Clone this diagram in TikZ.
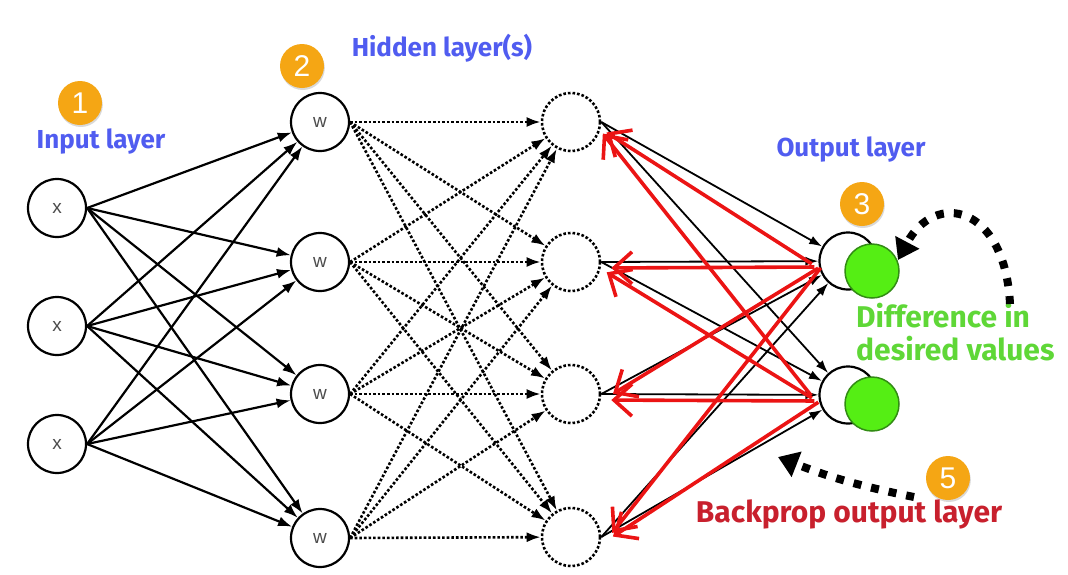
\documentclass[tikz,border=0pt]{standalone}
\usepackage{fontspec}
\setmainfont{Fira Sans}
\newfontfamily\nodefont{Liberation Sans}
\usetikzlibrary{arrows.meta,calc,shadows}
\definecolor{lblue}{RGB}{80,92,240}
\definecolor{lgreen}{RGB}{95,215,55}
\definecolor{lred}{RGB}{200,32,45}
\definecolor{badgeor}{RGB}{245,166,20}
\definecolor{nodegreen}{RGB}{85,238,20}
\definecolor{nodegreenline}{RGB}{50,140,20}
\definecolor{arrred}{RGB}{235,20,20}
\tikzset{
  neuron/.style={circle, draw, line width=2.2pt, minimum size=58pt, inner sep=0pt,
    font=\nodefont\fontsize{19}{19}\selectfont, text=black!70},
  hnode/.style={circle, draw, dotted, line width=2.6pt, minimum size=58pt, inner sep=0pt},
  outwhite/.style={circle, draw, fill=white, line width=2.2pt, minimum size=57pt, inner sep=0pt},
  outgreen/.style={circle, draw=nodegreenline, fill=nodegreen, line width=1.5pt, minimum size=54pt, inner sep=0pt},
  solidarrow/.style={line width=2.2pt, -{Latex[length=14pt,width=10pt]}},
  dotarrow/.style={dotted, line width=2.6pt, -{Latex[length=14pt,width=10pt]}},
  fwdarrow/.style={line width=1.8pt, -{Latex[length=13pt,width=9pt]}},
  redarrow/.style={draw=arrred, line width=3.6pt, -{Straight Barb[length=18pt,width=32pt]}},
  bigdash/.style={line width=8pt, dash pattern=on 8pt off 10pt, -{Triangle[length=20pt,width=26pt]}},
  badge/.style={circle, fill=badgeor, minimum size=44pt, inner sep=0pt, text=white,
    font=\nodefont\fontsize{30}{30}\selectfont,
    drop shadow={opacity=0.3, shadow xshift=0.8pt, shadow yshift=-2pt}},
  lbl/.style={font=\bfseries\fontsize{26}{34}\selectfont, inner sep=0pt},
  biglbl/.style={font=\bfseries\fontsize{30}{33}\selectfont, inner sep=0pt}
}
\begin{document}
\begin{tikzpicture}[x=1pt,y=-1pt]
\useasboundingbox (0,0) rectangle (1068,574);
% input layer
\node[neuron] (x1) at (57,208) {x};
\node[neuron] (x2) at (57,326) {x};
\node[neuron] (x3) at (57,444) {x};
% hidden layer 1
\node[neuron] (w1) at (320,122) {w};
\node[neuron] (w2) at (320,262) {w};
\node[neuron] (w3) at (320,394) {w};
\node[neuron] (w4) at (320,538) {w};
% hidden layer 2
\node[hnode] (h1) at (571,122) {};
\node[hnode] (h2) at (571,262) {};
\node[hnode] (h3) at (571,394) {};
\node[hnode] (h4) at (571,537) {};
% output layer
\node[outwhite] (o1) at (848,261) {};
\node[outgreen] (g1) at (872,271) {};
\node[outwhite] (o2) at (848,395) {};
\node[outgreen] (g2) at (872,404) {};
% connections
\foreach \i in {1,2,3} \foreach \j in {1,2,3,4} \draw[solidarrow] (x\i.east) -- (w\j);
\foreach \i in {1,2,3,4} \foreach \j in {1,2,3,4} \draw[dotarrow] (w\i.east) -- (h\j);
\foreach \i in {1,2,3,4} \foreach \j in {1,2} \draw[fwdarrow] (h\i.east) -- (o\j);
\foreach \i in {1,2,3,4} \foreach \j in {1,2}
  \draw[redarrow, shorten >=10pt, shorten <=4pt] ($(o\j.west)!6pt!90:(h\i.east)$) -- ($(h\i.east)!6pt!-90:(o\j.west)$);
% badges
\node[badge] (b1) at (80,103) {1};
\node[badge] (b2) at (302,66) {2};
\node[badge] (b3) at (862,204) {3};
\node[badge] (b5) at (948,478) {5};
% labels
\node[lbl, text=lblue] (tin) at (101,142) {Input layer};
\node[lbl, text=lblue] (thid) at (442,48) {Hidden layer(s)};
\node[lbl, text=lblue] (tout) at (851,150) {Output layer};
\node[biglbl, text=lgreen, align=left, anchor=north west] (tdiff) at (856,303) {Difference in\\desired values};
\node[biglbl, text=lred] (tback) at (849,514) {Backprop output layer};
% dashed pointer arrows
\coordinate (da) at (1010,304);
\coordinate (dac1) at (1005,205);
\coordinate (dac2) at (935,190);
\coordinate (db) at (898,260);
\draw[bigdash] (da) .. controls (dac1) and (dac2) .. (db);
\coordinate (ba) at (914,497);
\coordinate (bb) at (778,457);
\draw[bigdash] (ba) to[bend left=5] (bb);
\end{tikzpicture}
\end{document}
